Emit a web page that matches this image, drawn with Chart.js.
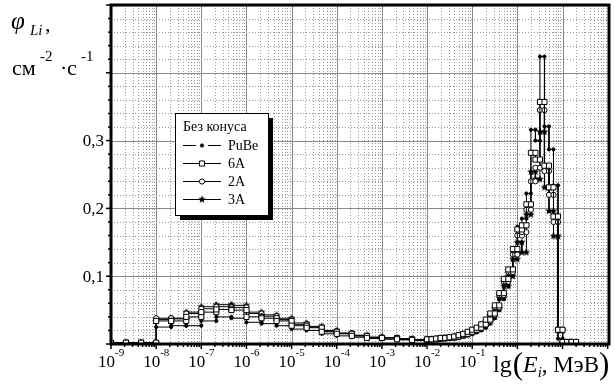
<!DOCTYPE html>
<html><head><meta charset="utf-8">
<script src="https://cdn.jsdelivr.net/npm/chart.js@4/dist/chart.umd.min.js"></script>
<style>html,body{margin:0;padding:0;background:#fff;}#wrap{width:615px;height:385px;position:relative;}</style>
</head><body><div id="wrap"><canvas id="c" width="615" height="385"></canvas></div>
<script>
// Bin edges, log10(E / MeV)
const logEdges = [-9, -8.667, -8.333, -8, -7.667, -7.333, -7, -6.667, -6.333, -6, -5.667, -5.333, -5, -4.667, -4.333, -4, -3.667, -3.333, -3, -2.667, -2.333,
  -2, -1.9, -1.8, -1.7, -1.6, -1.5, -1.4, -1.3, -1.2, -1.1, -1.0, -0.9, -0.8, -0.7, -0.6, -0.5, -0.4, -0.3, -0.2, -0.1, 0, 0.1, 0.2, 0.3, 0.4, 0.5, 0.6, 0.7, 0.8, 0.9, 1.0, 1.1, 1.2, 1.3];

// Flux per bin for each source
const vPuBe = [0, 0, 0, 0.025, 0.027, 0.027, 0.034, 0.040, 0.038, 0.032, 0.030, 0.027, 0.022, 0.020, 0.015, 0.012, 0.010, 0.008, 0.007, 0.006, 0.005,
  0.006, 0.006, 0.007, 0.007, 0.008, 0.008, 0.009, 0.011, 0.013, 0.015, 0.017, 0.020, 0.024, 0.030, 0.038, 0.050, 0.066, 0.088, 0.103, 0.135, 0.173, 0.185, 0.222, 0.316, 0.300, 0.424, 0.321, 0.287, 0.234, 0.008, 0, 0, 0];
const v6A = [0.002, 0.002, 0.002, 0.034, 0.034, 0.040, 0.047, 0.051, 0.050, 0.040, 0.038, 0.034, 0.027, 0.024, 0.018, 0.015, 0.012, 0.009, 0.009, 0.007, 0.006,
  0.007, 0.007, 0.008, 0.009, 0.009, 0.010, 0.011, 0.013, 0.015, 0.018, 0.021, 0.024, 0.029, 0.036, 0.045, 0.057, 0.075, 0.096, 0.110, 0.140, 0.169, 0.175, 0.206, 0.282, 0.272, 0.357, 0.263, 0.231, 0.188, 0.021, 0.003, 0.003, 0.003];
const v2A = [0.002, 0.002, 0.002, 0.038, 0.038, 0.045, 0.052, 0.055, 0.054, 0.045, 0.041, 0.036, 0.029, 0.025, 0.019, 0.016, 0.012, 0.010, 0.009, 0.007, 0.006,
  0.007, 0.007, 0.008, 0.008, 0.009, 0.010, 0.011, 0.012, 0.014, 0.017, 0.020, 0.023, 0.028, 0.034, 0.043, 0.054, 0.072, 0.092, 0.106, 0.132, 0.160, 0.165, 0.198, 0.240, 0.260, 0.345, 0.255, 0.220, 0.180, 0.021, 0.003, 0.003, 0.003];
const v3A = [0.001, 0.001, 0.001, 0.036, 0.037, 0.047, 0.055, 0.058, 0.057, 0.047, 0.043, 0.038, 0.031, 0.026, 0.020, 0.016, 0.013, 0.010, 0.009, 0.008, 0.006,
  0.007, 0.007, 0.007, 0.008, 0.009, 0.009, 0.010, 0.012, 0.014, 0.016, 0.019, 0.022, 0.026, 0.032, 0.040, 0.051, 0.068, 0.085, 0.100, 0.125, 0.150, 0.135, 0.191, 0.254, 0.243, 0.313, 0.231, 0.196, 0.159, 0.020, 0.002, 0.002, 0.002];

const seriesNames = ['PuBe', '6A', '2A', '3A'];
const legendTitle = 'Без конуса';
const xTickDecades = [-9, -8, -7, -6, -5, -4, -3, -2, -1];
const yTickLabels = [[0.1, '0,1'], [0.2, '0,2'], [0.3, '0,3']];

function hist(vals) {
  const pts = [];
  for (let i = 0; i < vals.length; i++) {
    pts.push({x: Math.pow(10, logEdges[i]), y: vals[i]});
    pts.push({x: Math.pow(10, logEdges[i + 1]), y: vals[i]});
  }
  return pts;
}

function makeStar(r) {
  const s = Math.ceil(r * 2 + 2);
  const c = document.createElement('canvas');
  c.width = s; c.height = s;
  const g = c.getContext('2d');
  g.beginPath();
  for (let k = 0; k < 10; k++) {
    const a = -Math.PI / 2 + k * Math.PI / 5;
    const rr = k % 2 === 0 ? r : r * 0.45;
    g.lineTo(s / 2 + rr * Math.cos(a), s / 2 + rr * Math.sin(a));
  }
  g.closePath();
  g.fillStyle = '#000';
  g.fill();
  return c;
}
const starImg = makeStar(4);

const SERIF = '"Liberation Serif", "DejaVu Serif", serif';

const gridPlugin = {
  id: 'grid',
  beforeDatasetsDraw(chart) {
    const {ctx, chartArea: a, scales: {x, y}} = chart;
    ctx.save();
    ctx.lineWidth = 1;
    for (let d = -9; d <= 2; d++) {
      for (let m = 1; m <= 9; m++) {
        const v = m * Math.pow(10, d);
        if (v <= x.min * 1.0001 || v >= x.max) continue;
        const px = Math.round(x.getPixelForValue(v)) + 0.5;
        ctx.beginPath();
        if (m === 1) { ctx.setLineDash([]); ctx.strokeStyle = '#8a8a8a'; }
        else { ctx.setLineDash([1, 2]); ctx.strokeStyle = '#9a9a9a'; }
        ctx.moveTo(px, a.top); ctx.lineTo(px, a.bottom); ctx.stroke();
      }
    }
    for (let k = 1; k < 25; k++) {
      const v = k * 0.02;
      const py = Math.round(y.getPixelForValue(v)) + 0.5;
      ctx.beginPath();
      if (k % 5 === 0) { ctx.setLineDash([]); ctx.strokeStyle = '#8a8a8a'; }
      else { ctx.setLineDash([1, 2]); ctx.strokeStyle = '#9a9a9a'; }
      ctx.moveTo(a.left, py); ctx.lineTo(a.right, py); ctx.stroke();
    }
    ctx.restore();
  },
  afterDraw(chart) {
    const {ctx, chartArea: a, scales: {x, y}} = chart;
    ctx.save();
    ctx.setLineDash([]);
    ctx.strokeStyle = '#000';
    ctx.lineWidth = 3;
    ctx.strokeRect(a.left, a.top, a.right - a.left, a.bottom - a.top);
    ctx.lineWidth = 1.5;
    for (let d = -9; d <= 2; d++) {
      for (let m = 1; m <= 9; m++) {
        const v = m * Math.pow(10, d);
        if (v < x.min * 0.9999 || v >= x.max) continue;
        const px = x.getPixelForValue(v);
        ctx.beginPath();
        ctx.moveTo(px, a.bottom); ctx.lineTo(px, a.bottom + (m === 1 ? 5 : 3)); ctx.stroke();
      }
    }
    for (let k = 0; k <= 25; k++) {
      const py = y.getPixelForValue(k * 0.02);
      ctx.beginPath();
      ctx.moveTo(a.left, py); ctx.lineTo(a.left - (k % 5 === 0 ? 5 : 3), py); ctx.stroke();
    }
    // x tick labels
    ctx.fillStyle = '#000';
    ctx.textBaseline = 'alphabetic';
    xTickDecades.forEach(d => {
      const px = x.getPixelForValue(Math.pow(10, d));
      ctx.font = '17px ' + SERIF;
      ctx.textAlign = 'right';
      ctx.fillText('10', px + 4, 367);
      ctx.font = '11px ' + SERIF;
      ctx.textAlign = 'left';
      ctx.fillText(String(d), px + 4, 356);
    });
    // y tick labels
    ctx.font = '17px ' + SERIF;
    ctx.textAlign = 'right';
    ctx.textBaseline = 'middle';
    yTickLabels.forEach(([v, t]) => ctx.fillText(t, 104, y.getPixelForValue(v) + 1));
    // y title
    ctx.textBaseline = 'alphabetic';
    ctx.textAlign = 'left';
    ctx.font = 'italic 25px ' + SERIF;
    ctx.fillText('φ', 11, 29);
    ctx.font = 'italic 15px ' + SERIF;
    ctx.fillText('Li', 30, 35);
    ctx.font = '22px ' + SERIF;
    ctx.fillText(',', 45, 31);
    ctx.font = '22px ' + SERIF;
    ctx.fillText('см', 12, 75);
    ctx.font = '15px ' + SERIF;
    ctx.fillText('-2', 40, 61);
    ctx.font = '22px ' + SERIF;
    ctx.fillText('·', 60, 75);
    ctx.fillText('с', 67, 75);
    ctx.font = '15px ' + SERIF;
    ctx.fillText('-1', 81, 61);
    // x title
    let cx = 493;
    const put = (t, f, yy) => { ctx.font = f; ctx.fillText(t, cx, yy); cx += ctx.measureText(t).width; };
    put('lg', '24px ' + SERIF, 372);
    cx += 1;
    put('(', '31px ' + SERIF, 374);
    put('E', 'italic 24px ' + SERIF, 372);
    put('i', 'italic 15px ' + SERIF, 377);
    put(', МэВ', '23px ' + SERIF, 372);
    put(')', '31px ' + SERIF, 374);
    // legend
    const L = 175, T = 113, W = 93, H = 102;
    ctx.fillStyle = '#000';
    ctx.fillRect(L + 5, T + 5, W, H);
    ctx.fillStyle = '#fff';
    ctx.fillRect(L, T, W, H);
    ctx.lineWidth = 1;
    ctx.strokeStyle = '#000';
    ctx.strokeRect(L + 0.5, T + 0.5, W, H);
    ctx.fillStyle = '#000';
    ctx.font = '14px ' + SERIF;
    ctx.textBaseline = 'middle';
    ctx.fillText(legendTitle, 183, 127);
    const rowY = [145, 163, 181, 199];
    const order = [2, 0, 1, 3];
    seriesNames.forEach((n, i) => {
      const yy = rowY[i] + 0.5;
      const ds = chart.data.datasets[order[i]];
      ctx.strokeStyle = '#000';
      ctx.lineWidth = 1;
      ctx.beginPath();
      if (n === 'PuBe') {
        ctx.moveTo(183, yy); ctx.lineTo(196, yy);
        ctx.moveTo(208, yy); ctx.lineTo(221, yy);
      } else {
        ctx.moveTo(183, yy); ctx.lineTo(221, yy);
      }
      ctx.stroke();
      ctx.fillStyle = ds.pointBackgroundColor;
      ctx.strokeStyle = '#000';
      Chart.helpers.drawPoint(ctx, {pointStyle: ds.pointStyle, radius: ds.pointRadius, borderWidth: 1, rotation: 0}, 202, yy);
      ctx.fillStyle = '#000';
      ctx.fillText(n, 228, rowY[i] + 1);
    });
    ctx.restore();
  }
};

new Chart(document.getElementById('c'), {
  type: 'line',
  data: {
    datasets: [
      {label: '6A', data: hist(v6A), borderColor: '#000', borderWidth: 1, pointStyle: 'rect', pointRadius: 3.6, pointBackgroundColor: '#fff', pointBorderColor: '#000', pointBorderWidth: 1},
      {label: '2A', data: hist(v2A), borderColor: '#000', borderWidth: 1, pointStyle: 'circle', pointRadius: 2.6, pointBackgroundColor: '#fff', pointBorderColor: '#000', pointBorderWidth: 1},
      {label: 'PuBe', data: hist(vPuBe), borderColor: '#000', borderWidth: 1, pointStyle: 'circle', pointRadius: 1.6, pointBackgroundColor: '#000', pointBorderColor: '#000', pointBorderWidth: 1},
      {label: '3A', data: hist(v3A), borderColor: '#000', borderWidth: 1, pointStyle: starImg, pointRadius: 4, pointBackgroundColor: '#000', pointBorderColor: '#000', pointBorderWidth: 0}
    ]
  },
  options: {
    responsive: false,
    animation: false,
    devicePixelRatio: 1,
    layout: {padding: {left: 111, right: 6, top: 4, bottom: 41}},
    elements: {line: {tension: 0}},
    plugins: {legend: {display: false}, tooltip: {enabled: false}},
    scales: {
      x: {type: 'logarithmic', min: 1e-9, max: 107, display: false},
      y: {type: 'linear', min: 0, max: 0.5, display: false}
    }
  },
  plugins: [gridPlugin]
});
</script></body></html>
